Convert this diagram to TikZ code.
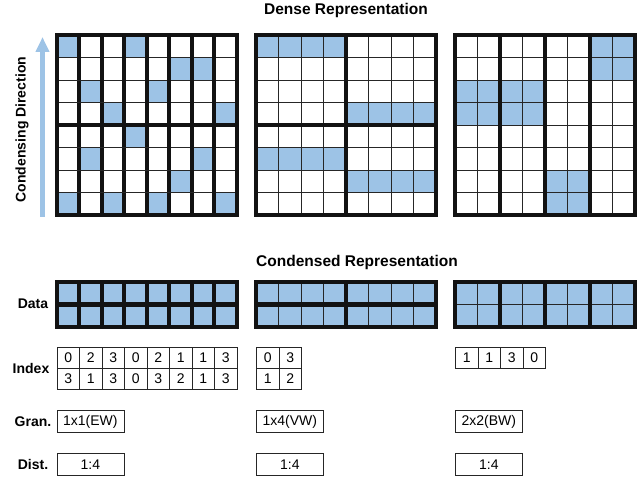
\documentclass[tikz,border=0pt]{standalone}
\usepackage{fontspec}
\setmainfont{Liberation Sans}
\usepackage{xcolor}
\usepackage{tikz}
\usetikzlibrary{positioning, arrows.meta, matrix}

\definecolor{cellblue}{HTML}{9DC3E6}

\begin{document}
\begin{tikzpicture}[x=1pt, y=-1pt,
        every node/.style={font=\fontsize{14}{16}\selectfont},
        title/.style={font=\fontsize{15.5}{18}\selectfont\bfseries},
        rowlabel/.style={font=\fontsize{14}{16}\selectfont\bfseries},
        thinline/.style={draw=black!85, line width=0.8pt},
        thickline/.style={draw=black!93, line width=4pt},
        idx/.style={matrix of nodes, inner sep=0pt, outer sep=0pt, anchor=north west,
            column sep=-0.8pt, row sep=-0.8pt,
            nodes={draw=black!85, line width=0.8pt, minimum width=22.5pt, minimum height=21pt, inner sep=0pt}},
        infobox/.style={draw=black!85, line width=0.8pt, minimum width=67pt, minimum height=22pt, inner sep=0pt, anchor=north west}
        ]
        \useasboundingbox (0,0) rectangle (637,478);

        % Titles
        \node[title] (dense) at (346,10) {Dense Representation};
        \node[title] (condensed) at (357,262) {Condensed Representation};

        % Direction
        \node[rowlabel, rotate=90] (dirlbl) at (22,129.5) {Condensing Direction};
        \coordinate (dirbot) at (42.5,217);
        \coordinate (dirtop) at (42.5,37);
        \draw[cellblue, line width=5pt, -{Triangle[width=13pt,length=15pt]}] (dirbot) -- (dirtop);

        % Dense, element-wise
        \begin{scope}[shift={(56.5,35)}]
            \foreach \c/\r in {0/0,3/0,5/1,6/1,1/2,4/2,2/3,7/3,3/4,1/5,6/5,5/6,0/7,2/7,4/7,7/7}
                \fill[cellblue] (\c*22.5,\r*22.5) rectangle ++(22.5,22.5);
            \foreach \i in {1,...,7} {
                \draw[thinline] (0,\i*22.5) -- (180,\i*22.5);
                \draw[thickline] (\i*22.5,0) -- (\i*22.5,180);
            }
            \draw[thickline] (0,90) -- (180,90);
            \draw[thickline] (0,0) rectangle (180,180);
        \end{scope}

        % Dense, vector-wise
        \begin{scope}[shift={(256,35)}]
            \foreach \c/\r in {0/0,4/3,0/5,4/6}
                \fill[cellblue] (\c*22.5,\r*22.5) rectangle ++(90,22.5);
            \foreach \i in {1,...,7} {
                \draw[thinline] (0,\i*22.5) -- (180,\i*22.5);
                \draw[thinline] (\i*22.5,0) -- (\i*22.5,180);
            }
            \draw[thickline] (0,90) -- (180,90);
            \draw[thickline] (90,0) -- (90,180);
            \draw[thickline] (0,0) rectangle (180,180);
        \end{scope}

        % Dense, block-wise
        \begin{scope}[shift={(455,35)}]
            \foreach \c/\r/\w in {6/0/2,0/2/4,4/6/2}
                \fill[cellblue] (\c*22.5,\r*22.5) rectangle ++(\w*22.5,45);
            \foreach \i in {1,...,7} {
                \draw[thinline] (0,\i*22.5) -- (180,\i*22.5);
                \draw[thinline] (\i*22.5,0) -- (\i*22.5,180);
            }
            \foreach \i in {2,4,6}
                \draw[thickline] (\i*22.5,0) -- (\i*22.5,180);
            \draw[thickline] (0,0) rectangle (180,180);
        \end{scope}

        % Data
        \node[rowlabel] (datalbl) at (33,304) {Data};
        \begin{scope}[shift={(56.5,282)}]
            \fill[cellblue] (0,0) rectangle (180,45);
            \foreach \i in {1,...,7}
                \draw[thickline] (\i*22.5,0) -- (\i*22.5,45);
            \draw[thickline] (0,22.5) -- (180,22.5);
            \draw[thickline] (0,0) rectangle (180,45);
        \end{scope}
        \begin{scope}[shift={(256,282)}]
            \fill[cellblue] (0,0) rectangle (180,45);
            \foreach \i in {1,...,7}
                \draw[thinline] (\i*22.5,0) -- (\i*22.5,45);
            \draw[thickline] (0,22.5) -- (180,22.5);
            \draw[thickline] (90,0) -- (90,45);
            \draw[thickline] (0,0) rectangle (180,45);
        \end{scope}
        \begin{scope}[shift={(455,282)}]
            \fill[cellblue] (0,0) rectangle (180,45);
            \foreach \i in {1,...,7}
                \draw[thinline] (\i*22.5,0) -- (\i*22.5,45);
            \draw[thinline] (0,22.5) -- (180,22.5);
            \foreach \i in {2,4,6}
                \draw[thickline] (\i*22.5,0) -- (\i*22.5,45);
            \draw[thickline] (0,0) rectangle (180,45);
        \end{scope}

        % Index
        \node[rowlabel] (idxlbl) at (31,368) {Index};
        \matrix (idxew) [idx] at (56.5,347) {
            0 & 2 & 3 & 0 & 2 & 1 & 1 & 3 \\
            3 & 1 & 3 & 0 & 3 & 2 & 1 & 3 \\
        };
        \matrix (idxvw) [idx] at (256,347) {
            0 & 3 \\
            1 & 2 \\
        };
        \matrix (idxbw) [idx] at (455,347) {
            1 & 1 & 3 & 0 \\
        };

        % Granularity
        \node[rowlabel] (granlbl) at (33,422) {Gran.};
        \node[infobox] (granew) at (56.5,410) {1x1(EW)};
        \node[infobox] (granvw) at (256,410) {1x4(VW)};
        \node[infobox] (granbw) at (455,410) {2x2(BW)};

        % Distribution
        \node[rowlabel] (distlbl) at (33,464) {Dist.};
        \node[infobox] (distew) at (56.5,453) {1:4};
        \node[infobox] (distvw) at (256,453) {1:4};
        \node[infobox] (distbw) at (455,453) {1:4};

    \end{tikzpicture}
\end{document}
